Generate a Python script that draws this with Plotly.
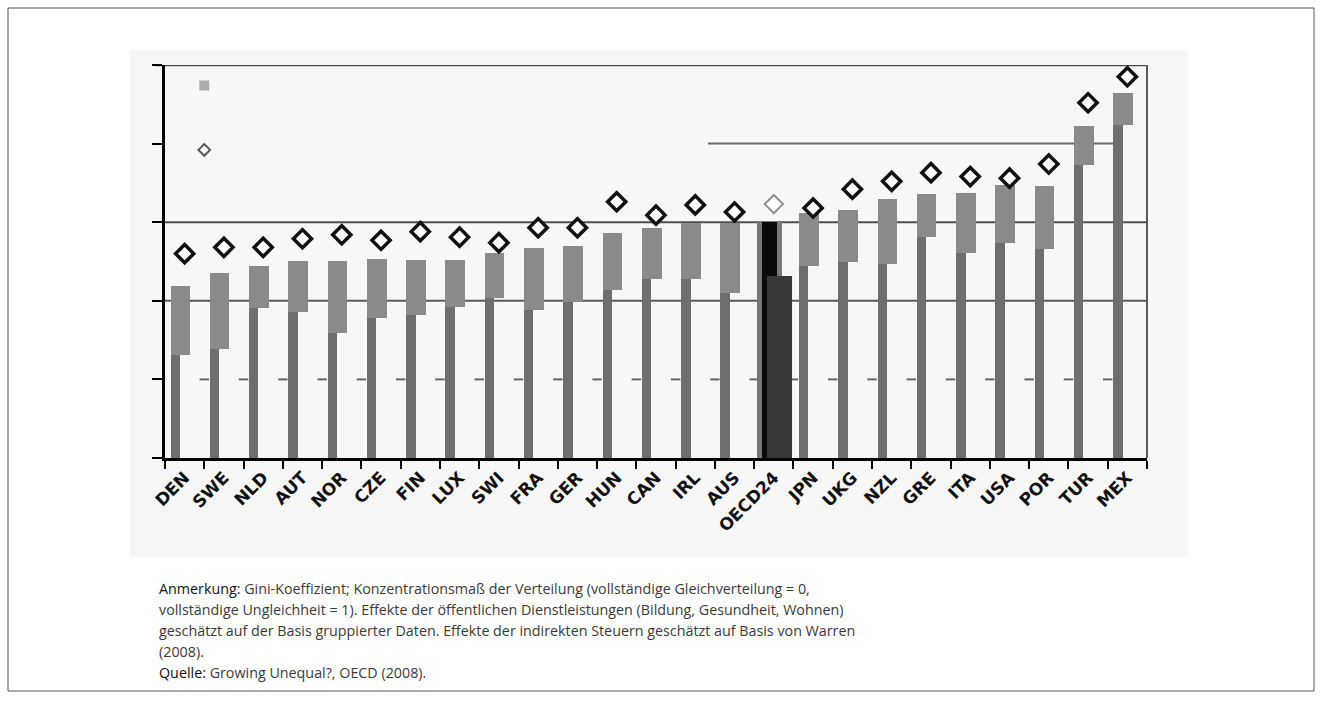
import plotly.graph_objects as go

countries = ["DEN", "SWE", "NLD", "AUT", "NOR", "CZE", "FIN", "LUX", "SWI", "FRA", "GER", "HUN", "CAN",
             "IRL", "AUS", "OECD24", "JPN", "UKG", "NZL", "GRE", "ITA", "USA", "POR", "TUR", "MEX"]
# top of bars
bar_top = [0.219, 0.235, 0.244, 0.251, 0.251, 0.253, 0.252, 0.252, 0.261, 0.267, 0.270, 0.286, 0.293,
           0.299, 0.299, 0.302, 0.312, 0.316, 0.330, 0.336, 0.337, 0.347, 0.346, 0.422, 0.464]
# lower end of the wide block
block_low = [0.131, 0.139, 0.191, 0.186, 0.159, 0.178, 0.182, 0.192, 0.204, 0.188, 0.198, 0.214, 0.228,
             0.228, 0.210, 0.0, 0.244, 0.249, 0.247, 0.281, 0.261, 0.274, 0.266, 0.373, 0.424]
# diamonds
diamond = [0.260, 0.268, 0.268, 0.279, 0.284, 0.277, 0.288, 0.281, 0.274, 0.293, 0.293, 0.326, 0.309,
           0.322, 0.313, 0.323, 0.318, 0.342, 0.352, 0.363, 0.358, 0.356, 0.374, 0.452, 0.485]
oecd_label = "OECD24"
oecd_inner = 0.300
oecd_second = 0.232

caption = [
    ("Anmerkung:", " Gini-Koeffizient; Konzentrationsmaß der Verteilung (vollständige Gleichverteilung = 0,"),
    ("", "vollständige Ungleichheit = 1). Effekte der öffentlichen Dienstleistungen (Bildung, Gesundheit, Wohnen)"),
    ("", "geschätzt auf der Basis gruppierter Daten. Effekte der indirekten Steuern geschätzt auf Basis von Warren"),
    ("", "(2008)."),
    ("Quelle:", " Growing Unequal?, OECD (2008)."),
]

L, R, T, B = 165, 1147, 65, 458
W, H = R - L, B - T


def px_x(p):
    return (p - L) / W


def px_y(p):
    return (B - p) / H


fig = go.Figure()
n = len(countries)
is_oecd = [c == oecd_label for c in countries]

# narrow full bars (regular countries)
fig.add_trace(go.Bar(
    x=countries, y=bar_top, width=0.24, offset=-0.36,
    marker=dict(color="#6e6e6e", opacity=[0 if o else 1 for o in is_oecd], line=dict(width=0)),
    showlegend=False, hoverinfo="skip"))
# wide floating block
fig.add_trace(go.Bar(
    x=countries, y=[t - l for t, l in zip(bar_top, block_low)], base=block_low,
    width=[0.64 if o else 0.5 for o in is_oecd], offset=[-0.43 if o else -0.36 for o in is_oecd],
    marker=dict(color=["#777777" if o else "#8a8a8a" for o in is_oecd], line=dict(width=0)),
    showlegend=False, hoverinfo="skip"))
# OECD black inner bar
fig.add_trace(go.Bar(
    x=[oecd_label], y=[oecd_inner], width=0.38, offset=-0.30,
    marker=dict(color="#0a0a0a", line=dict(width=0)),
    showlegend=False, hoverinfo="skip"))
# OECD second bar
fig.add_trace(go.Bar(
    x=[oecd_label], y=[oecd_second], width=0.64, offset=-0.17,
    marker=dict(color="#383838", line=dict(width=0)),
    showlegend=False, hoverinfo="skip"))

# diamonds
fig.add_trace(go.Scatter(
    x=countries, y=diamond, mode="markers",
    marker=dict(symbol="diamond", size=14, color="#ffffff",
                line=dict(width=[2 if o else 3.5 for o in is_oecd],
                          color=["#8f8f8f" if o else "#111111" for o in is_oecd])),
    showlegend=False, hoverinfo="skip"))

shapes = []
shapes.append(dict(type="rect", xref="paper", yref="paper", x0=px_x(8), x1=px_x(1314), y0=px_y(8), y1=px_y(691),
                   line=dict(color="#555555", width=1), fillcolor="rgba(0,0,0,0)", layer="below"))
shapes.append(dict(type="rect", xref="paper", yref="paper", x0=px_x(130), x1=px_x(1188), y0=px_y(50), y1=px_y(557),
                   line=dict(width=0), fillcolor="#f7f7f7", layer="below"))
shapes.append(dict(type="line", xref="paper", yref="y", x0=px_x(155), x1=1, y0=0.5, y1=0.5,
                   line=dict(color="#4a4a4a", width=2.5), layer="below"))
shapes.append(dict(type="line", xref="paper", yref="y", x0=0, x1=1, y0=0.3, y1=0.3,
                   line=dict(color="#4f4f4f", width=2), layer="below"))
shapes.append(dict(type="line", xref="paper", yref="y", x0=0, x1=1, y0=0.2, y1=0.2,
                   line=dict(color="#5a5a5a", width=2), layer="below"))
shapes.append(dict(type="line", xref="paper", yref="y", x0=px_x(708), x1=px_x(1113), y0=0.4, y1=0.4,
                   line=dict(color="#6a6a6a", width=2), layer="below"))
shapes.append(dict(type="line", xref="paper", yref="paper", x0=1, x1=1, y0=0, y1=1,
                   line=dict(color="#5a5a5a", width=2), layer="below"))
for i in range(1, n):
    shapes.append(dict(type="line", xref="x", yref="y", x0=i - 0.62, x1=i - 0.38, y0=0.1, y1=0.1,
                       line=dict(color="#666666", width=2), layer="below"))
fig.update_layout(shapes=shapes)

# stray legend symbols of the scan
fig.add_trace(go.Scatter(
    x=[1.0, 1.0], y=[0.474, 0.392], mode="markers", xaxis="x2",
    marker=dict(symbol=["square", "diamond"], size=[10, 9], color=["#8a8a8a", "#ffffff"],
                line=dict(width=[0, 2], color="#111111")),
    showlegend=False, hoverinfo="skip"))

annotations = []
for k, (bold, rest) in enumerate(caption):
    txt = (f"<span style='color:#111111'>{bold}</span>" if bold else "") + rest
    annotations.append(dict(xref="paper", yref="paper", x=px_x(157), y=px_y(588 + 21 * k), xanchor="left",
                            yanchor="middle", showarrow=False, text=txt,
                            font=dict(family="Open Sans, Roboto, sans-serif", size=14.3, color="#3a3a3a")))
fig.update_layout(annotations=annotations)

fig.update_layout(
    width=1322, height=719,
    margin=dict(l=L, r=1322 - R, t=T, b=719 - B, pad=0),
    paper_bgcolor="#ffffff", plot_bgcolor="#fafafa",
    barmode="overlay", bargap=0,
    xaxis=dict(type="category", range=[-0.5, n - 0.5], showgrid=False, zeroline=False,
               showline=True, linecolor="#000000", linewidth=3,
               ticks="outside", tickson="boundaries", ticklen=8, tickwidth=2, tickcolor="#000000",
               tickangle=-45,
               tickfont=dict(family="DejaVu Sans, Liberation Sans, sans-serif", size=17, color="#111111",
                             weight="bold")),
    xaxis2=dict(overlaying="x", range=[0, n], visible=False, showgrid=False),
    yaxis=dict(range=[0, 0.5], dtick=0.1, tick0=0, showgrid=False, zeroline=False, showticklabels=False,
               showline=True, linecolor="#000000", linewidth=3,
               ticks="outside", ticklen=10, tickwidth=2, tickcolor="#000000"),
    font=dict(family="Liberation Sans, Arial, sans-serif"),
)

fig.write_html("out.html", config={"displayModeBar": False},
               post_script="document.body.style.margin='0';")
